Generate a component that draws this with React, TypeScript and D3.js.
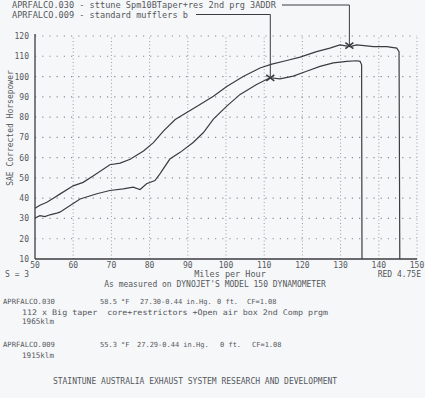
import React from "react";
import * as d3 from "d3";

const mph030 = [50, 51.3, 53.1, 54.8, 56.5, 60, 62.6, 65.3, 69.6, 72.3, 74.9, 78.4, 81, 83.6, 86.7, 93.2, 96.7, 100.2, 104.5, 108.9, 112, 115.9, 119.4, 123.7, 127.2, 129.8, 132.5, 134.2, 136.8, 138.6, 142.1, 144.7, 145.3, 145.5];
const hp030 = [35, 36.5, 38, 40, 42, 46.1, 47.8, 51.1, 56.5, 57.3, 59.2, 63.3, 67.4, 73.1, 78.8, 86.2, 90.3, 95.1, 100, 104.2, 106.1, 107.9, 109.6, 112.3, 114, 115.6, 114.8, 115.6, 115.1, 114.8, 114.8, 114, 112.3, 10];

const mph009 = [50, 51.3, 52.6, 53.9, 55.7, 56.5, 61.8, 66.2, 69.6, 73.1, 75.7, 77.5, 79.2, 81.4, 82.7, 85.3, 88, 91.4, 94.1, 96.7, 100.2, 103.7, 108, 111.5, 114.1, 117.6, 121.1, 124.6, 128.1, 131.6, 134.2, 135.1, 135.5, 135.6];
const hp009 = [30.2, 31.4, 30.9, 31.8, 32.6, 33.1, 39.6, 42.2, 43.8, 44.6, 45.4, 44.3, 47.1, 48.7, 52, 59.3, 62.6, 67.5, 72.4, 79, 85.4, 91.2, 96.1, 99.4, 98.9, 100.2, 102.6, 105, 106.7, 107.5, 107.8, 107.5, 105.8, 10];

const xTicks = [50, 60, 70, 80, 90, 100, 110, 120, 130, 140, 150];
const yTicks = [10, 20, 30, 40, 50, 60, 70, 80, 90, 100, 110, 120];

const legendLabels = [
  "APRFALCO.030 - sttune Spm10BTaper+res 2nd prg 3ADDR",
  "APRFALCO.009 - standard mufflers b",
];
const markerMph = [132.3, 111.6];
const markerHp = [115.2, 99.3];

const runNames = ["APRFALCO.030", "APRFALCO.009"];
const runTemps = ["58.5 \u00b0F", "55.3 \u00b0F"];
const runBaro = ["27.30-0.44 in.Hg.", "27.29-0.44 in.Hg."];
const runAlt = ["0 ft.", "0 ft."];
const runCF = ["CF=1.08", "CF=1.08"];
const runNotes = [
  ["112 x Big taper  core+restrictors +Open air box 2nd Comp prgm", "1965klm"],
  ["1915klm"],
];

const FONT = "'DejaVu Sans Mono', monospace";
const INK = "#3c3c40";
const TXT = "#55575c";

export default function App() {
  const W = 425, H = 398;
  const x = d3.scaleLinear().domain([50, 150]).range([35, 417]);
  const y = d3.scaleLinear().domain([10, 120]).range([259, 36]);
  const mk = (xs: number[], ys: number[]) =>
    d3.line<number>()
      .x((_, i) => x(xs[i]))
      .y((_, i) => y(ys[i]))
      .curve(d3.curveLinear)(xs) as string;
  const p030 = mk(mph030, hp030);
  const p009 = mk(mph009, hp009);

  const legendTextEnd = [282, 196];
  const legendY = [8, 18];
  const legendLineY = [5, 14.5];
  const colX = [[100, 140, 217, 247], [100, 137, 220, 252]];
  const pre = { whiteSpace: "pre" as const };

  return (
    <svg width={W} height={H} style={{ position: "absolute", left: 0, top: 0, background: "#f6f7f9" }}>
      <rect x={0} y={0} width={W} height={H} fill="#f6f7f9" />
      {yTicks.filter((t) => t > 10).map((t) => (
        <line key={"gy" + t} x1={x(50)} x2={x(150)} y1={y(t)} y2={y(t)} stroke="#8a8c92" strokeWidth={1.2} strokeDasharray="1.2,6" />
      ))}
      {xTicks.filter((t) => t > 50).map((t) => (
        <line key={"gx" + t} x1={x(t)} x2={x(t)} y1={y(10)} y2={y(120)} stroke="#9a9ca2" strokeWidth={1} strokeDasharray="1,2.5" />
      ))}
      <line x1={x(50)} x2={x(50)} y1={y(10)} y2={y(120) - 2} stroke={INK} strokeWidth={1.3} />
      <line x1={x(50)} x2={x(150)} y1={y(10)} y2={y(10)} stroke={INK} strokeWidth={1.3} />
      {yTicks.map((t) => (
        <text key={"yt" + t} x={29} y={y(t) + 3} fontSize={8} fontFamily={FONT} fill={TXT} textAnchor="end">{t}</text>
      ))}
      {xTicks.map((t) => (
        <text key={"xt" + t} x={x(t)} y={268} fontSize={8} fontFamily={FONT} fill={TXT} textAnchor="middle">{t}</text>
      ))}
      <text transform="translate(13,128) rotate(-90)" fontSize={8} fontFamily={FONT} fill={TXT} textAnchor="middle">SAE Corrected Horsepower</text>
      <path d={p030} fill="none" stroke={INK} strokeWidth={1.2} />
      <path d={p009} fill="none" stroke={INK} strokeWidth={1.2} />
      {legendLabels.map((l, i) => (
        <g key={"lg" + i}>
          <text x={12} y={legendY[i]} fontSize={8.6} fontFamily={FONT} fill={TXT} style={pre}>{l}</text>
          <path d={`M${legendTextEnd[i]},${legendLineY[i]}H${x(markerMph[i])}V${y(markerHp[i])}`} fill="none" stroke={INK} strokeWidth={1} />
          <path d={`M${x(markerMph[i]) - 4},${y(markerHp[i]) - 3}L${x(markerMph[i]) + 4},${y(markerHp[i]) + 3}M${x(markerMph[i]) - 4},${y(markerHp[i]) + 3}L${x(markerMph[i]) + 4},${y(markerHp[i]) - 3}`} stroke={INK} strokeWidth={1.6} />
        </g>
      ))}
      <text x={5} y={277} fontSize={8} fontFamily={FONT} fill={TXT} style={pre}>S = 3</text>
      <text x={230} y={277} fontSize={8.5} fontFamily={FONT} fill={TXT} textAnchor="middle">Miles per Hour</text>
      <text x={421} y={277} fontSize={8} fontFamily={FONT} fill={TXT} textAnchor="end">RED 4.75E</text>
      <text x={215} y={287} fontSize={8} fontFamily={FONT} fill={TXT} textAnchor="middle">As measured on DYNOJET'S MODEL 150 DYNAMOMETER</text>
      {runNames.map((n, i) => {
        const base = i === 0 ? 304 : 347;
        const fields = [runTemps[i], runBaro[i], runAlt[i], runCF[i]];
        return (
          <g key={"run" + i}>
            <text x={3} y={base} fontSize={7.2} fontFamily={FONT} fill={TXT}>{n}</text>
            {fields.map((f, k) => (
              <text key={k} x={colX[i][k]} y={base} fontSize={7} fontFamily={FONT} fill={TXT} style={pre}>{f}</text>
            ))}
            {runNotes[i].map((s, j) => (
              <text key={j} x={22} y={base + 11 + j * 9} fontSize={7.6} fontFamily={FONT} fill={TXT} style={pre}
                textLength={s.length > 20 ? 306 : undefined} lengthAdjust="spacingAndGlyphs">{s}</text>
            ))}
          </g>
        );
      })}
      <text x={195} y={384} fontSize={8} fontFamily={FONT} fill={TXT} textAnchor="middle">STAINTUNE AUSTRALIA EXHAUST SYSTEM RESEARCH AND DEVELOPMENT</text>
    </svg>
  );
}
